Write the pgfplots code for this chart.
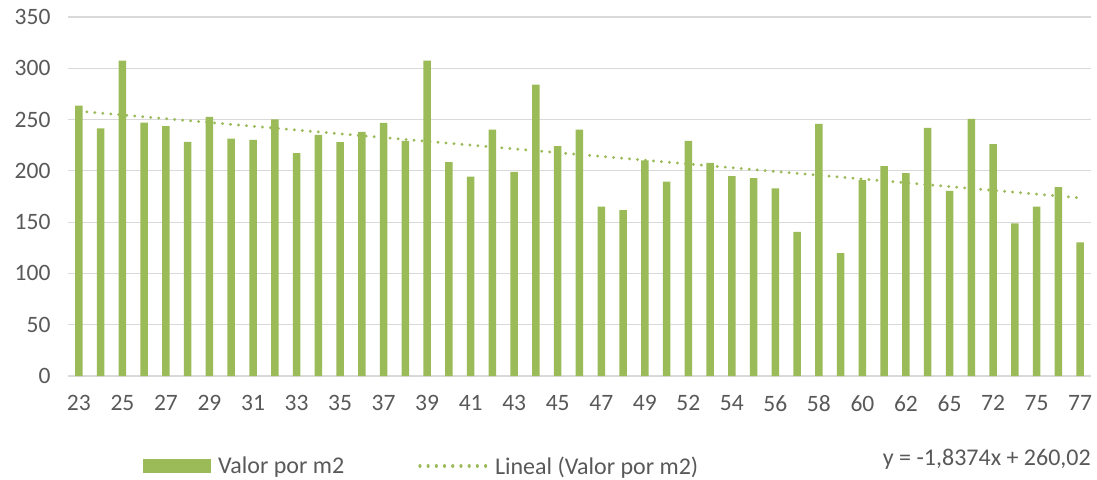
\documentclass[border=0pt]{standalone}
\usepackage{fontspec}
\setmainfont{Carlito}
\usepackage{pgfplots}
\pgfplotsset{compat=1.18}
\definecolor{bargreen}{HTML}{9BBB59}
\definecolor{gridgray}{HTML}{D9D9D9}
\definecolor{txtgray}{HTML}{595959}
\begin{document}
\begin{tikzpicture}
\begin{axis}[
  at={(68pt,103pt)}, anchor=south west,
  scale only axis, width=1023pt, height=359pt,
  xmin=0.5, xmax=47.5, ymin=0, ymax=350,
  clip mode=individual,
  ytick={0,50,...,350},
  xtick={1,3,...,47},
  xticklabels={23,25,27,29,31,33,35,37,39,41,43,45,47,49,52,54,56,58,60,62,65,72,75,77},
  major tick length=0pt,
  axis lines*=left,
  y axis line style={draw=none},
  x axis line style={draw=gridgray, line width=1.2pt},
  ymajorgrids, grid style={draw=gridgray, line width=1.2pt},
  tick label style={font=\fontsize{23.5pt}{27pt}\selectfont, text=txtgray},
  /pgf/number format/assume math mode=true,
  yticklabel style={xshift=-14pt},
  xticklabel style={yshift=-16pt},
  legend columns=2,
  legend style={draw=none, fill=none, inner sep=0pt,
    at={(0.0733,-0.2507)}, anchor=west,
    font=\fontsize{24pt}{28pt}\selectfont, text=txtgray,
    /tikz/every odd column/.append style={column sep=5pt},
    /tikz/every even column/.append style={column sep=72pt}},
  legend cell align=left,
]
\addplot[ybar, bar width=7.5pt, bar shift=0pt, fill=bargreen, draw=none,
  legend image code/.code={\fill[bargreen] (0pt,-7pt) rectangle (68pt,7pt);}]
coordinates {
(1,263.5)(2,241.5)(3,307.5)(4,247)(5,243.5)(6,228.2)(7,252.6)(8,231.5)(9,230.2)(10,250.3)
(11,217.2)(12,235)(13,227.9)(14,238)(15,246.7)(16,229.2)(17,307.5)(18,208.4)(19,194.4)(20,240.2)
(21,199)(22,284.1)(23,224)(24,240.2)(25,165.1)(26,161.7)(27,210.1)(28,189.6)(29,229.2)(30,207.8)
(31,194.8)(32,192.8)(33,182.8)(34,140.6)(35,245.8)(36,119.8)(37,190.9)(38,204.6)(39,197.7)(40,241.9)
(41,180.5)(42,250.6)(43,226)(44,148.7)(45,165.1)(46,184.1)(47,130.2)
};
\addlegendentry{Valor por m2}
\addplot[bargreen, line width=3.2pt, line cap=round, dash pattern=on 0.01pt off 8pt,
  legend image code/.code={\draw[bargreen, line width=3.2pt, line cap=round, dash pattern=on 0.01pt off 8.2pt] (1.5pt,0pt) -- (68pt,0pt);}]
coordinates {(1,258.18)(47,173.66)};
\addlegendentry{Lineal (Valor por m2)}
\node[anchor=east, inner sep=0pt, text=txtgray, font=\fontsize{24pt}{28pt}\selectfont]
  at (rel axis cs:1.0,-0.2313) {y = -1,8374x + 260,02};
\end{axis}
\pgfresetboundingbox
\path[use as bounding box] (0,0) rectangle (1097pt,479pt);
\end{tikzpicture}
\end{document}
